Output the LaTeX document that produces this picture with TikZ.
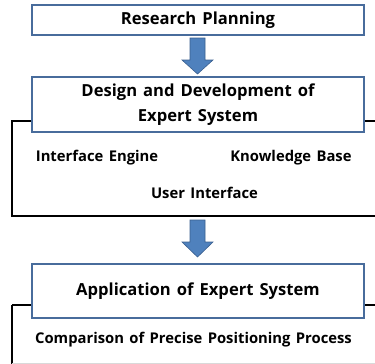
\documentclass[tikz,border=0pt]{standalone}
\usepackage{fontspec}
\setmainfont{Open Sans}[WordSpace=1.4]
\definecolor{boxblue}{RGB}{72,108,156}
\definecolor{arrowfill}{RGB}{79,129,189}
\definecolor{arrowline}{RGB}{58,95,143}
\tikzset{
  x=1pt,y=1pt,
  stagebox/.style={draw=boxblue,line width=1.6pt,fill=white,minimum width=332pt,inner sep=0pt,align=center,font=\bfseries\fontsize{16.6}{25}\selectfont},
  groupbox/.style={draw=black,line width=1.4pt},
  itemtext/.style={font=\bfseries\fontsize{14.8}{16}\selectfont,inner sep=0pt},
  blockarrow/.style={fill=arrowfill,draw=arrowline,line width=0.6pt,line join=miter}
}
\begin{document}
\begin{tikzpicture}
\useasboundingbox (0,0) rectangle (375,-364);
\clip (0,0) rectangle (375,-364);
\fill[white] (0,0) rectangle (375,-364);
% group frames
\draw[groupbox] (12,-121) rectangle (385,-216);
\draw[groupbox] (12,-305) -- (12,-375);
\draw[groupbox] (12,-305) -- (385,-305);
\draw[gray!30,line width=0.8pt] (12,-363.5) -- (375,-363.5);
% stage boxes
\node[stagebox,minimum height=30pt] (plan) at (198,-20) {Research Planning};
\node[stagebox,minimum height=55pt] (design) at (198,-104.5) {Design and Development of\\Expert System};
\node[stagebox,minimum height=54pt] (apply) at (198,-291) {Application of Expert System};
% items
\node[itemtext] (ie) at (97,-158) {Interface Engine};
\node[itemtext] (kb) at (291,-158) {Knowledge Base};
\node[itemtext] (ui) at (204.5,-193) {User Interface};
\node[itemtext] (cmp) at (193.5,-340) {Comparison of Precise Positioning Process};
% block arrows
\draw[blockarrow] (190,-38) -- (205,-38) -- (205,-60) -- (213,-60) -- (197.5,-74) -- (182,-60) -- (190,-60) -- cycle;
\draw[blockarrow] (190,-220) -- (205,-220) -- (205,-242) -- (213,-242) -- (197.5,-257) -- (182,-242) -- (190,-242) -- cycle;
\end{tikzpicture}
\end{document}
